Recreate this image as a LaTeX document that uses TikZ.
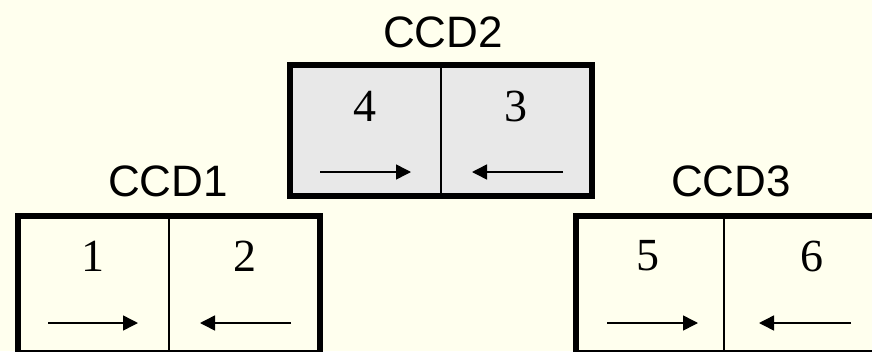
\documentclass[tikz,border=0pt]{standalone}
\usepackage{fontspec}
\newfontfamily\labelfont{Liberation Sans}
\newfontfamily\digitfont{Liberation Serif}
\usetikzlibrary{arrows.meta}
\definecolor{bgyellow}{RGB}{255,255,238}
\definecolor{cellgray}{RGB}{232,232,232}
\begin{document}
\begin{tikzpicture}[x=1pt,y=-1pt,
  frame/.style={draw=black,line width=6pt},
  divider/.style={draw=black,line width=2pt},
  flow/.style={draw=black,line width=1.5pt,-{Triangle[length=15pt,width=15pt]}},
  ccdlabel/.style={font=\labelfont\fontsize{44}{48}\selectfont,inner sep=0pt},
  cellnum/.style={font=\digitfont\fontsize{46}{50}\selectfont,inner sep=0pt}]
\useasboundingbox (0,0) rectangle (872,351);
\clip (0,0) rectangle (872,351);
\fill[bgyellow] (0,0) rectangle (872,351);
% CCD2
\filldraw[frame,fill=cellgray] (290,65) rectangle (592,196);
\draw[divider] (441,65) -- (441,196);
\node[ccdlabel] (l2) at (443,32) {CCD2};
\node[cellnum] (n4) at (365,106) {4};
\node[cellnum] (n3) at (516,106) {3};
\coordinate (a4s) at (320,172); \coordinate (a4e) at (411,172);
\coordinate (a3s) at (563,172); \coordinate (a3e) at (472,172);
\draw[flow] (a4s) -- (a4e);
\draw[flow] (a3s) -- (a3e);
% CCD1
\draw[frame] (18,216) rectangle (320,353);
\draw[divider] (169,216) -- (169,353);
\node[ccdlabel] (l1) at (168,181) {CCD1};
\node[cellnum] (n1) at (93,256) {1};
\node[cellnum] (n2) at (245,256) {2};
\coordinate (a1s) at (48,323); \coordinate (a1e) at (138,323);
\coordinate (a2s) at (291,323); \coordinate (a2e) at (200,323);
\draw[flow] (a1s) -- (a1e);
\draw[flow] (a2s) -- (a2e);
% CCD3
\draw[frame] (576,216) rectangle (890,353);
\draw[divider] (724,216) -- (724,353);
\node[ccdlabel] (l3) at (731,181) {CCD3};
\node[cellnum] (n5) at (648,256) {5};
\node[cellnum] (n6) at (812,256) {6};
\coordinate (a5s) at (607,323); \coordinate (a5e) at (698,323);
\coordinate (a6s) at (851,323); \coordinate (a6e) at (759,323);
\draw[flow] (a5s) -- (a5e);
\draw[flow] (a6s) -- (a6e);
\end{tikzpicture}
\end{document}
